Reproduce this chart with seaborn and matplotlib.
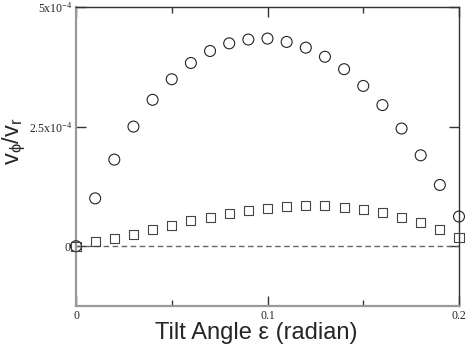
import numpy as np
import pandas as pd
import matplotlib
matplotlib.use("Agg")
import matplotlib.pyplot as plt
import seaborn as sns
from matplotlib.ticker import FixedLocator

tilt = [0.00, 0.01, 0.02, 0.03, 0.04, 0.05, 0.06, 0.07, 0.08, 0.09, 0.10,
        0.11, 0.12, 0.13, 0.14, 0.15, 0.16, 0.17, 0.18, 0.19, 0.20]
circles = [0.0, 1.00e-4, 1.81e-4, 2.50e-4, 3.06e-4, 3.49e-4, 3.83e-4, 4.08e-4,
           4.24e-4, 4.32e-4, 4.34e-4, 4.27e-4, 4.15e-4, 3.96e-4, 3.70e-4,
           3.35e-4, 2.95e-4, 2.46e-4, 1.90e-4, 1.28e-4, 0.62e-4]
squares = [0.0, 0.09e-4, 0.16e-4, 0.24e-4, 0.35e-4, 0.43e-4, 0.53e-4, 0.61e-4,
           0.69e-4, 0.74e-4, 0.79e-4, 0.82e-4, 0.85e-4, 0.85e-4, 0.80e-4,
           0.76e-4, 0.70e-4, 0.60e-4, 0.50e-4, 0.34e-4, 0.18e-4]
ytick_vals = [0.0, 2.5e-4, 5e-4]
ytick_labels = [r"$\mathrm{0}$", r"$\mathrm{2.5x10^{-4}}$", r"$\mathrm{5x10^{-4}}$"]
xtick_vals = [0.0, 0.1, 0.2]
xtick_labels = ["0", "0.1", "0.2"]

sns.set_style("white")
plt.rcParams['mathtext.fontset'] = 'custom'
plt.rcParams['mathtext.rm'] = 'Liberation Serif'
plt.rcParams['mathtext.sf'] = 'Liberation Sans'

df_c = pd.DataFrame({"x": tilt, "y": circles})
df_s = pd.DataFrame({"x": tilt, "y": squares})

fig = plt.figure(figsize=(4.67, 3.46), dpi=100)
ax = fig.add_axes([76/467, 1-306/346, (459-76)/467, (306-7)/346])

ax.axhline(0, color="#666666", lw=1.0, ls=(0, (4, 2.5)), zorder=1)

sns.scatterplot(data=df_c, x="x", y="y", marker="o", s=62, facecolors="none",
                edgecolor="#222222", linewidth=0.8, ax=ax, zorder=3, clip_on=False)
sns.scatterplot(data=df_s, x="x", y="y", marker="s", s=42, facecolors="none",
                edgecolor="#444444", linewidth=0.8, ax=ax, zorder=3, clip_on=False)

ax.set_xlim(0, 0.2)
ax.set_ylim(-1.25e-4, 5e-4)
ax.xaxis.set_major_locator(FixedLocator(xtick_vals))
ax.xaxis.set_minor_locator(FixedLocator([0.05, 0.15]))
ax.set_xticklabels(xtick_labels, fontfamily="Liberation Serif", fontsize=8.5)
ax.yaxis.set_major_locator(FixedLocator(ytick_vals))
ax.set_yticklabels(ytick_labels, fontsize=8.5)
ax.tick_params(which="major", direction="in", length=7, width=1, color="#333333",
               top=True, right=True, bottom=True, left=True, pad=3)
ax.tick_params(which="minor", direction="in", length=4, width=1, color="#333333",
               top=True, bottom=True)

for side in ["left", "bottom"]:
    ax.spines[side].set_color("#999999")
    ax.spines[side].set_linewidth(1.6)
for side in ["top", "right"]:
    ax.spines[side].set_color("#333333")
    ax.spines[side].set_linewidth(1.0)

ax.set_xlabel("Tilt Angle ε (radian)", fontfamily="Liberation Sans", fontsize=17)
ax.xaxis.set_label_coords(0.47, -0.052)
ax.set_ylabel(r"$\mathsf{v_{\phi}/v_{r}}$", fontsize=17)
ax.yaxis.set_label_coords(-0.125, 0.55)
ax.grid(False)

fig.savefig("out.png", dpi=100)
